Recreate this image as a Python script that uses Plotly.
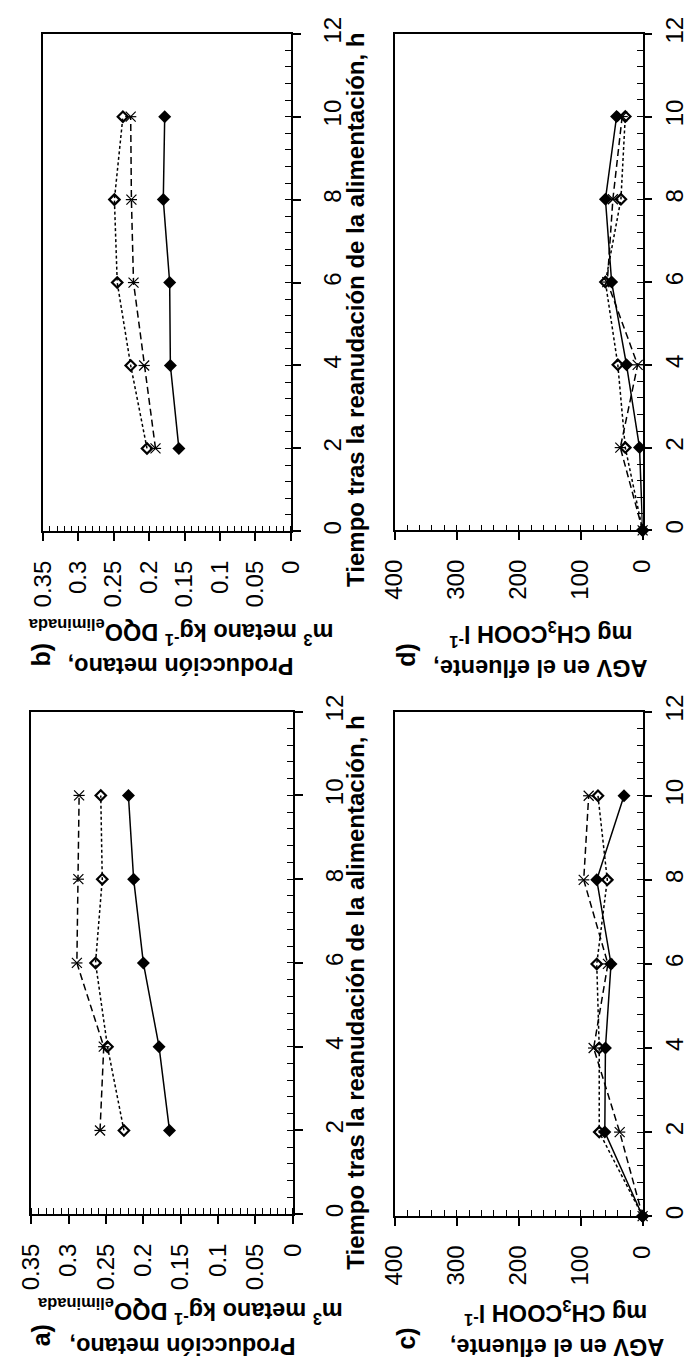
import plotly.graph_objects as go

W, H = 696, 1366

# ---------------- data ----------------
time_ab = [2, 4, 6, 8, 10]
time_cd = [0, 2, 4, 6, 8, 10]

# a) Producción metano (panel bottom-left)
a_filled = [0.165, 0.179, 0.200, 0.213, 0.220]
a_open = [0.226, 0.248, 0.264, 0.255, 0.257]
a_star = [0.258, 0.253, 0.289, 0.287, 0.286]

# b) Producción metano (panel top-left)
b_filled = [0.158, 0.170, 0.171, 0.180, 0.178]
b_open = [0.203, 0.226, 0.245, 0.249, 0.237]
b_star = [0.191, 0.207, 0.222, 0.225, 0.226]

# c) AGV en el efluente (panel bottom-right)
c_filled = [0, 61, 60, 51, 74, 30]
c_open = [0, 70, 70, 74, 57, 72]
c_star = [0, 37, 79, 56, 95, 87]

# d) AGV en el efluente (panel top-right)
d_filled = [0, 5, 26, 50, 60, 42]
d_open = [0, 28, 40, 60, 35, 28]
d_star = [0, 36, 8, 57, 48, 33]

time_ticks = [0, 2, 4, 6, 8, 10, 12]
time_ticktext = ["0", "2", "4", "6", "8", "10", "12"]
metano_ticks = [0, 0.05, 0.1, 0.15, 0.2, 0.25, 0.3, 0.35]
metano_ticktext = ["0", "0.05", "0.1", "0.15", "0.2", "0.25", "0.3", "0.35"]
agv_ticks = [0, 100, 200, 300, 400]
agv_ticktext = ["0", "100", "200", "300", "400"]

time_title = "Tiempo tras la reanudación de la alimentación, h"
metano_title1 = "Producción metano,"
metano_title2 = "m<sup>3</sup> metano kg<sup>-1</sup> DQO<sub>eliminada</sub>"
agv_title1 = "AGV en el efluente,"
agv_title2 = "mg CH<sub>3</sub>COOH l<sup>-1</sup>"

FONT = "Liberation Sans"

fig = go.Figure()


def add_panel(xa, ya, t, filled, opn, star):
    fig.add_trace(go.Scatter(
        x=star, y=t, xaxis=xa, yaxis=ya, mode="lines+markers",
        line=dict(color="black", width=1.5, dash="7px,4px"),
        marker=dict(symbol="x-thin-open", size=10, color="black",
                    line=dict(color="black", width=1.2)),
        showlegend=False, cliponaxis=False))
    fig.add_trace(go.Scatter(
        x=star, y=t, xaxis=xa, yaxis=ya, mode="markers",
        marker=dict(symbol="line-ew-open", size=8, color="black",
                    line=dict(color="black", width=1.2)),
        showlegend=False, cliponaxis=False))
    fig.add_trace(go.Scatter(
        x=opn, y=t, xaxis=xa, yaxis=ya, mode="lines+markers",
        line=dict(color="black", width=1.5, dash="3px,2.5px"),
        marker=dict(symbol="diamond-open", size=8, color="black",
                    line=dict(color="black", width=2.2)),
        showlegend=False, cliponaxis=False))
    fig.add_trace(go.Scatter(
        x=filled, y=t, xaxis=xa, yaxis=ya, mode="lines+markers",
        line=dict(color="black", width=1.5),
        marker=dict(symbol="diamond", size=10, color="black",
                    line=dict(width=0)),
        showlegend=False, cliponaxis=False))


add_panel("x", "y", time_ab, b_filled, b_open, b_star)
add_panel("x2", "y2", time_ab, a_filled, a_open, a_star)
add_panel("x3", "y3", time_cd, d_filled, d_open, d_star)
add_panel("x4", "y4", time_cd, c_filled, c_open, c_star)

tickfont = dict(family=FONT, size=24, color="black")


def vaxis(px0, px1, anchor, vmax, vals, txt, minor_dt):
    return dict(
        domain=[px0 / W, px1 / W], anchor=anchor,
        range=[vmax, 0], autorange=False,
        tickmode="array", tickvals=vals, ticktext=txt,
        ticks="outside", ticklen=8, tickwidth=1.5, tickcolor="black",
        showline=True, linecolor="black", linewidth=1.5, mirror=True,
        showgrid=False, zeroline=False, tickangle=-90, tickfont=tickfont,
        ticklabelstandoff=10,
        minor=dict(dtick=minor_dt, tick0=0, ticks="inside", ticklen=6,
                   tickwidth=1, tickcolor="black", showgrid=False),
    )


def taxis(py0, py1, anchor, standoff):
    return dict(
        domain=[1 - py1 / H, 1 - py0 / H], anchor=anchor, side="right",
        range=[0, 12], autorange=False,
        tickmode="array", tickvals=time_ticks, ticktext=time_ticktext,
        ticks="outside", ticklen=8, tickwidth=1.5, tickcolor="black",
        showline=True, linecolor="black", linewidth=1.5, mirror=True,
        showgrid=False, zeroline=False, tickangle=-90, tickfont=tickfont,
        ticklabelstandoff=standoff,
        minor=dict(dtick=0.4, tick0=0, ticks="inside", ticklen=6,
                   tickwidth=1, tickcolor="black", showgrid=False),
    )


fig.update_layout(
    width=W, height=H, autosize=False,
    margin=dict(l=0, r=0, t=0, b=0, pad=0),
    paper_bgcolor="white", plot_bgcolor="white",
    xaxis=vaxis(30, 288, "y", 0.35, metano_ticks, metano_ticktext, 0.01),
    yaxis=taxis(17, 522, "x", 12),
    xaxis2=vaxis(18, 290, "y2", 0.35, metano_ticks, metano_ticktext, 0.01),
    yaxis2=taxis(705, 1215, "x2", 12),
    xaxis3=vaxis(396, 654, "y3", 400, agv_ticks, agv_ticktext, 20),
    yaxis3=taxis(17, 521, "x3", 2),
    xaxis4=vaxis(396, 654, "y4", 400, agv_ticks, agv_ticktext, 20),
    yaxis4=taxis(705, 1217, "x4", 2),
)


def ann(text, px, py, angle, size):
    fig.add_annotation(
        text=text, x=px / W, y=1 - py / H, xref="paper", yref="paper",
        showarrow=False, textangle=angle, xanchor="center", yanchor="middle",
        font=dict(family=FONT, size=size, color="black"))


# panel letters
ann("<b>b)</b>", 28, 647, -90, 25)
ann("<b>a)</b>", 28, 1338, -90, 25)
ann("<b>d)</b>", 407, 647, -90, 25)
ann("<b>c)</b>", 408, 1341, -90, 25)

# value-axis titles (upside down)
ann("<b>" + metano_title1 + "</b>", 173, 658, 180, 23.5)
ann("<b>" + metano_title2 + "</b>", 174, 624, 180, 23.5)
ann("<b>" + metano_title1 + "</b>", 175, 1348, 180, 23.5)
ann("<b>" + metano_title2 + "</b>", 183, 1313, 180, 23.5)
ann("<b>" + agv_title1 + "</b>", 548, 660, 180, 23.5)
ann("<b>" + agv_title2 + "</b>", 548, 626, 180, 23.5)
ann("<b>" + agv_title1 + "</b>", 565, 1350, 180, 23.5)
ann("<b>" + agv_title2 + "</b>", 564, 1315, 180, 23.5)

# time-axis titles
ann("<b>" + time_title + "</b>", 355, 297, -90, 24)
ann("<b>" + time_title + "</b>", 355, 990, -90, 24)

fig.write_html("out.html")
